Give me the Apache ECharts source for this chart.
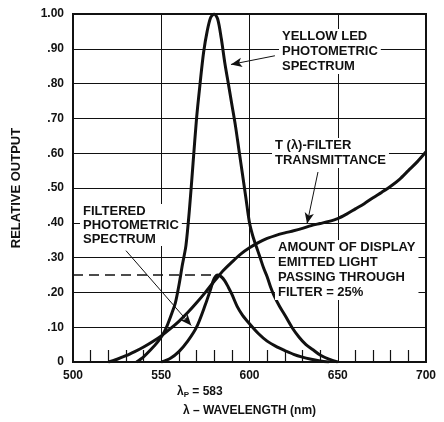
<!DOCTYPE html>
<html>
<head>
<meta charset="utf-8">
<script src="https://cdn.jsdelivr.net/npm/echarts@6/dist/echarts.min.js"></script>
<style>
  html, body { margin: 0; padding: 0; background: #fff; }
  #chart { width: 444px; height: 422px; }
</style>
</head>
<body>
<div id="chart"></div>
<script>
// wavelength (nm) / relative output
var ledX = [536, 540, 544, 548, 551, 553, 556, 558, 560, 562, 564, 566, 568, 570, 572, 574, 576, 578, 580,
            582, 584, 586, 588, 590, 592, 594, 596, 598, 600, 602, 604, 606, 608, 610, 612, 614, 617, 620,
            624, 628, 632, 636, 640, 645, 650];
var ledY = [0, 0.015, 0.035, 0.058, 0.08, 0.1, 0.14, 0.17, 0.22, 0.28, 0.335, 0.44, 0.57, 0.70, 0.80, 0.89, 0.95, 0.99, 1.00,
            0.985, 0.93, 0.86, 0.80, 0.74, 0.68, 0.61, 0.54, 0.47, 0.40, 0.36, 0.33, 0.30, 0.27, 0.245, 0.215, 0.19, 0.16, 0.135,
            0.10, 0.072, 0.05, 0.035, 0.02, 0.008, 0];

var filterX = [520, 525, 530, 535, 540, 545, 550, 555, 560, 565, 570, 575, 580, 583, 585, 590, 595, 600, 605, 610,
               615, 620, 625, 630, 635, 640, 645, 650, 655, 660, 665, 670, 675, 680, 685, 690, 695, 700];
var filterY = [0, 0.008, 0.018, 0.03, 0.043, 0.058, 0.075, 0.095, 0.117, 0.142, 0.17, 0.2, 0.232, 0.25, 0.262, 0.287, 0.31, 0.328, 0.343, 0.355,
               0.364, 0.371, 0.377, 0.384, 0.392, 0.398, 0.404, 0.412, 0.425, 0.44, 0.455, 0.472, 0.488, 0.505, 0.525, 0.55, 0.575, 0.604];

var passX = [550, 555, 560, 565, 570, 575, 578, 580, 582, 584, 586, 588, 590, 593, 596, 600, 605, 610, 615, 620, 625, 630, 635, 640, 645];
var passY = [0, 0.01, 0.03, 0.06, 0.1, 0.165, 0.21, 0.24, 0.25, 0.245, 0.233, 0.215, 0.195, 0.16, 0.135, 0.11, 0.082, 0.06, 0.045, 0.033, 0.022, 0.014, 0.008, 0.003, 0];

var peakNm = 583;
var peakLevel = 0.25;

function pairs(xs, ys) {
    return xs.map(function (x, i) { return [x, ys[i]]; });
}

var ink = '#111';
var font = 'bold 13px "Liberation Sans", Arial, sans-serif';

var chart = echarts.init(document.getElementById('chart'));

function arrow(from, to) {
    return [{ coord: from, symbol: 'none' }, { coord: to, symbol: 'arrow', symbolSize: [7, 11] }];
}

function note(left, top, text, lh) {
    return {
        type: 'text', left: left, top: top, z: 100,
        style: { text: text, font: font, fill: ink, lineHeight: lh || 15, backgroundColor: '#fff', padding: [0, 3] }
    };
}

option = {
    animation: false,
    grid: { left: 73, right: 18, top: 14, bottom: 58, show: true, borderColor: ink, borderWidth: 2 },
    xAxis: {
        type: 'value', min: 500, max: 700, interval: 50,
        name: 'λ – WAVELENGTH (nm)', nameLocation: 'middle', nameGap: 43,
        nameTextStyle: { color: ink, fontWeight: 'bold', fontSize: 12, fontFamily: 'Liberation Sans' },
        axisLine: { lineStyle: { color: ink, width: 2 } },
        axisTick: { show: false, inside: true },
        minorTick: { show: true, splitNumber: 5, length: 12, lineStyle: { color: ink, width: 1.2 } },
        splitLine: { lineStyle: { color: ink, width: 1 } },
        axisLabel: { color: ink, fontWeight: 'bold', fontSize: 12, fontFamily: 'Liberation Sans', margin: 8 }
    },
    yAxis: {
        type: 'value', min: 0, max: 1, interval: 0.1,
        name: 'RELATIVE OUTPUT', nameLocation: 'middle', nameGap: 50, nameRotate: 90,
        nameTextStyle: { color: ink, fontWeight: 'bold', fontSize: 13, fontFamily: 'Liberation Sans' },
        axisLine: { lineStyle: { color: ink, width: 2 } },
        axisTick: { show: false },
        splitLine: { lineStyle: { color: ink, width: 1 } },
        axisLabel: {
            color: ink, fontWeight: 'bold', fontSize: 12, fontFamily: 'Liberation Sans', margin: 9,
            formatter: function (v) {
                if (v === 0) return '0';
                if (v >= 1) return '1.00';
                return v.toFixed(2).slice(1);
            }
        }
    },
    series: [
        {
            name: 'T filter', type: 'line', data: pairs(filterX, filterY),
            smooth: 0.3, showSymbol: false, lineStyle: { color: ink, width: 3 }
        },
        {
            name: 'Yellow LED', type: 'line', data: pairs(ledX, ledY),
            smooth: 0.3, showSymbol: false, lineStyle: { color: ink, width: 3 }
        },
        {
            name: 'Filtered', type: 'line', data: pairs(passX, passY),
            smooth: 0.3, showSymbol: false, lineStyle: { color: ink, width: 3 },
            markLine: {
                silent: true, symbol: 'none', label: { show: false },
                lineStyle: { color: ink, width: 1.6, type: [10, 6] },
                data: [
                    [{ coord: [500, peakLevel] }, { coord: [peakNm, peakLevel] }],
                    [{ coord: [peakNm, peakLevel] }, { coord: [peakNm, -0.058] }]
                ]
            }
        },
        {
            name: 'arrows', type: 'line', data: [],
            markLine: {
                silent: true, label: { show: false },
                lineStyle: { color: ink, width: 1, type: 'solid' },
                data: [
                    arrow([614.4, 0.88], [589.5, 0.855]),
                    arrow([638.8, 0.546], [632.6, 0.397]),
                    arrow([530, 0.32], [567, 0.105])
                ]
            }
        }
    ],
    graphic: [
        note(279, 29, 'YELLOW LED\nPHOTOMETRIC\nSPECTRUM'),
        note(272, 138, 'T (λ)-FILTER\nTRANSMITTANCE'),
        note(80, 204, 'FILTERED\nPHOTOMETRIC\nSPECTRUM', 14),
        note(275, 240, 'AMOUNT OF DISPLAY\nEMITTED LIGHT\nPASSING THROUGH\nFILTER = 25%'),
        {
            type: 'text', left: 177, top: 386, z: 100,
            style: {
                text: '{l|λ}{s|P}{l| = 583}',
                rich: {
                    l: { font: 'bold 12px "Liberation Sans", Arial, sans-serif', fill: ink },
                    s: { font: 'bold 8px "Liberation Sans", Arial, sans-serif', fill: ink, padding: [6, 0, 0, 0] }
                }
            }
        }
    ]
};

chart.setOption(option);
</script>
</body>
</html>
